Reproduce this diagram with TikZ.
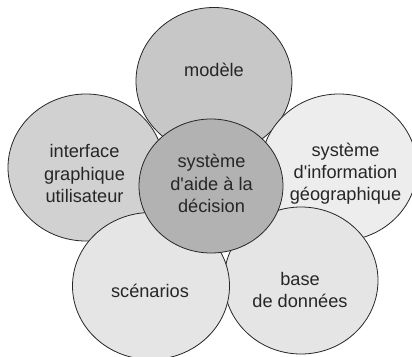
\documentclass[tikz,border=0pt]{standalone}
\usepackage{fontspec}
\setmainfont{Liberation Sans}
\usetikzlibrary{shapes.geometric}
\definecolor{cModele}{gray}{0.78}
\definecolor{cInterface}{gray}{0.82}
\definecolor{cSig}{gray}{0.93}
\definecolor{cBase}{gray}{0.90}
\definecolor{cScen}{gray}{0.90}
\definecolor{cCentre}{gray}{0.70}
\definecolor{cEdge}{gray}{0.15}
\definecolor{cText}{gray}{0.15}
\tikzset{
  petal/.style={ellipse,draw=cEdge,line width=0.8pt,inner sep=0pt,outer sep=0pt},
  petaltext/.style={text=cText,align=center,font=\fontsize{18.2}{22.2}\selectfont},
}
\newcommand{\petal}[7]{\node[petal,fill=#1,minimum width=#4pt,minimum height=#5pt] (#2) at (#3) {};
  \node[petaltext] (#2t) at (#6) {#7};}
\begin{document}
\begin{tikzpicture}[x=1pt,y=-1pt]
\useasboundingbox (0,0) rectangle (412,356);
\fill[white] (0,0) rectangle (412,356);
\begin{scope}
\clip (0,0) rectangle (412,356);
\petal{cModele}{modele}{214,81}{156}{147}{214,70}{modèle}
\petal{cInterface}{interface}{86,167.5}{156}{147}{84.5,173.5}{interface\\graphique\\utilisateur}
\petal{cSig}{sig}{339,167.5}{156}{147}{345.5,173.5}{système\\d\textquotesingle information\\géographique}
\petal{cBase}{base}{301,280.5}{154}{147}{300,290}{base\\de données}
\petal{cScen}{scen}{151,286}{157}{147}{150,291}{scénarios}
\petal{cCentre}{centre}{211,186}{144}{134}{211.5,183.5}{système\\d\textquotesingle aide à la\\décision}
\end{scope}
\end{tikzpicture}
\end{document}
